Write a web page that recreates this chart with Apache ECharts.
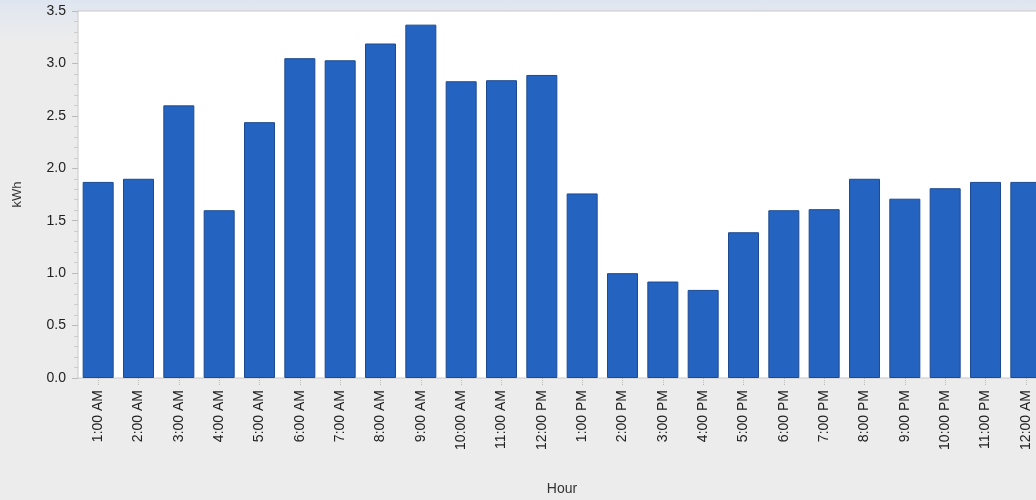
<!DOCTYPE html>
<html>
<head>
<meta charset="utf-8">
<script src="https://cdn.jsdelivr.net/npm/echarts@6/dist/echarts.min.js"></script>
<style>
  html, body { margin: 0; padding: 0; }
  #chart { width: 1036px; height: 500px; background: linear-gradient(to bottom, #dfe5f0 0px, #ececec 40px, #ececec 100%); }
</style>
</head>
<body>
<div id="chart"></div>
<script>
const hours = ['1:00 AM', '2:00 AM', '3:00 AM', '4:00 AM', '5:00 AM', '6:00 AM', '7:00 AM', '8:00 AM',
  '9:00 AM', '10:00 AM', '11:00 AM', '12:00 PM', '1:00 PM', '2:00 PM', '3:00 PM', '4:00 PM',
  '5:00 PM', '6:00 PM', '7:00 PM', '8:00 PM', '9:00 PM', '10:00 PM', '11:00 PM', '12:00 AM'];
const kwh = [1.87, 1.90, 2.60, 1.60, 2.44, 3.05, 3.03, 3.19, 3.37, 2.83, 2.84, 2.89,
  1.76, 1.00, 0.92, 0.84, 1.39, 1.60, 1.61, 1.90, 1.71, 1.81, 1.87, 1.87];

const chart = echarts.init(document.getElementById('chart'));
chart.setOption({
    animation: false,
    textStyle: {fontFamily: 'Liberation Sans, Arial, sans-serif'},
    grid: {left: 78, top: 11, right: -10, bottom: 122, containLabel: false, outerBoundsMode: 'none', show: true, backgroundColor: '#ffffff', borderColor: '#c8c8c8', borderWidth: 1},
    xAxis: {
        type: 'category',
        data: hours,
        name: 'Hour',
        nameLocation: 'middle',
        nameGap: 104,
        nameTextStyle: {color: '#333', fontSize: 14},
        axisLine: {show: false},
        axisTick: {show: true, alignWithLabel: true, length: 8, lineStyle: {color: '#bbb', type: 'dotted'}},
        axisLabel: {rotate: 90, color: '#222', fontSize: 14, margin: 12, interval: 0}
    },
    yAxis: {
        type: 'value',
        min: 0,
        max: 3.5,
        interval: 0.5,
        name: 'kWh',
        nameLocation: 'middle',
        nameGap: 54,
        nameTextStyle: {color: '#333', fontSize: 13},
        axisLine: {show: false},
        axisTick: {show: true, length: 6, lineStyle: {color: '#bbb'}},
        minorTick: {show: true, splitNumber: 5, length: 4, lineStyle: {color: '#ccc'}},
        splitLine: {show: false},
        axisLabel: {color: '#222', fontSize: 14, margin: 12, formatter: v => v.toFixed(1)}
    },
    series: [{
        type: 'bar',
        data: kwh,
        barWidth: 31,
        itemStyle: {color: '#2563c0', borderColor: '#1c4a90', borderWidth: 1}
    }]
});
</script>
</body>
</html>
